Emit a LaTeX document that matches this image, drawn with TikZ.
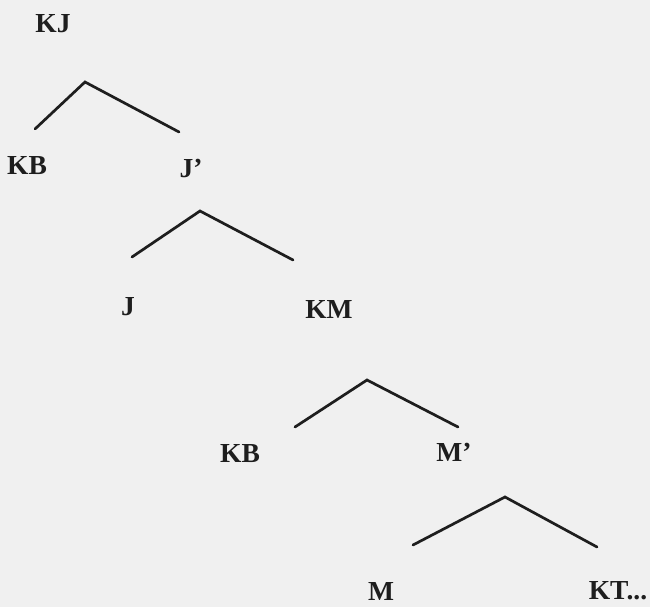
\documentclass[tikz,border=0pt]{standalone}
\usepackage{fontspec}
\setmainfont{Liberation Serif}
\definecolor{paper}{RGB}{240,240,240}
\definecolor{ink}{RGB}{30,30,30}
\tikzset{
  lbl/.style={font=\fontsize{27.5}{29}\selectfont\bfseries, text=ink, inner sep=0pt, anchor=center},
  branch/.style={draw=ink, line width=2.7pt, line cap=round, line join=miter}
}
\begin{document}
\begin{tikzpicture}[x=1pt,y=-1pt]
\fill[paper] (0,0) rectangle (650,607);
\useasboundingbox (0,0) rectangle (650,607);
% labels
\node[lbl] (KJ) at (53,24) {KJ};
\node[lbl] (KB1) at (27,166) {KB};
\node[lbl] (Jp) at (191,168) {J’};
\node[lbl] (J) at (128,307) {J};
\node[lbl] (KM) at (329,309) {KM};
\node[lbl] (KB2) at (240,454) {KB};
\node[lbl] (Mp) at (454,452) {M’};
\node[lbl] (M) at (381,591) {M};
\node[lbl] (KT) at (618,591) {KT...};
% tree 1
\coordinate (a1) at (85,82);
\coordinate (l1) at (35,129);
\coordinate (r1) at (179,132);
\draw[branch] (l1) -- (a1) -- (r1);
% tree 2
\coordinate (a2) at (200,211);
\coordinate (l2) at (132,257);
\coordinate (r2) at (293,260);
\draw[branch] (l2) -- (a2) -- (r2);
% tree 3
\coordinate (a3) at (367,380);
\coordinate (l3) at (295,427);
\coordinate (r3) at (458,427);
\draw[branch] (l3) -- (a3) -- (r3);
% tree 4
\coordinate (a4) at (505,497);
\coordinate (l4) at (413,545);
\coordinate (r4) at (597,547);
\draw[branch] (l4) -- (a4) -- (r4);
\end{tikzpicture}
\end{document}
